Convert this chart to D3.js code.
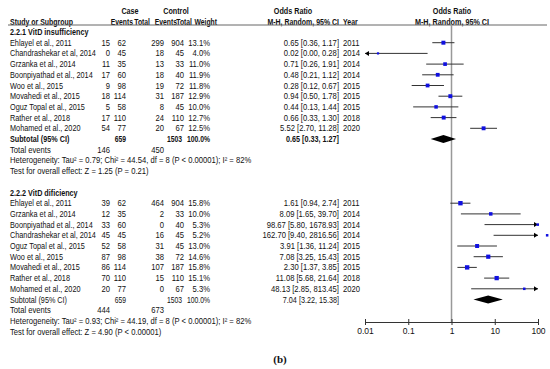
<!DOCTYPE html>
<html>
<head>
<meta charset="utf-8" />
<style>
body { margin: 0; background-color: #fff; }
#chart { width: 550px; height: 369px; }
text { font-family: "Liberation Sans", Arial, sans-serif; font-size: 8.5px; fill: #111; }
</style>
<title>forest plot</title>
</head>
<body>
<div id="chart"></div>
<script src="https://d3js.org/d3.v7.min.js"></script>
<script>

// 2.2.1 VitD insufficiency
var study1 = ["Ehlayel et al., 2011", "Chandrashekar et al, 2014", "Grzanka et al., 2014", "Boonpiyathad et al., 2014",
              "Woo et al., 2015", "Movahedi et al., 2015", "Oguz Topal et al., 2015", "Rather et al., 2018", "Mohamed et al., 2020"];
var caseEv1 = [15, 0, 11, 17, 9, 18, 5, 17, 54];
var caseN1 = [62, 45, 35, 60, 98, 114, 58, 110, 77];
var ctrlEv1 = [299, 18, 13, 18, 19, 31, 8, 24, 20];
var ctrlN1 = [904, 45, 33, 40, 72, 187, 45, 110, 67];
var weight1 = [13.1, 4.0, 11.0, 11.9, 11.8, 12.9, 10.0, 12.7, 12.5];
var or1 = [0.65, 0.02, 0.71, 0.48, 0.28, 0.94, 0.44, 0.66, 5.52];
var lo1 = [0.36, 0.00, 0.26, 0.21, 0.12, 0.50, 0.13, 0.33, 2.70];
var hi1 = [1.17, 0.28, 1.91, 1.12, 0.67, 1.78, 1.44, 1.30, 11.28];
var year1 = [2011, 2014, 2014, 2014, 2015, 2015, 2015, 2018, 2020];
var sub1 = {or: 0.65, lo: 0.33, hi: 1.27, caseN: 659, ctrlN: 1503, caseEv: 146, ctrlEv: 450,
            het: "Heterogeneity: Tau\u00b2 = 0.79; Chi\u00b2 = 44.54, df = 8 (P < 0.00001); I\u00b2 = 82%",
            test: "Test for overall effect: Z = 1.25 (P = 0.21)"};

// 2.2.2 VitD dificiency
var study2 = ["Ehlayel et al., 2011", "Grzanka et al., 2014", "Boonpiyathad et al., 2014", "Chandrashekar et al, 2014",
              "Oguz Topal et al., 2015", "Woo et al., 2015", "Movahedi et al., 2015", "Rather et al., 2018", "Mohamed et al., 2020"];
var caseEv2 = [39, 12, 33, 45, 52, 87, 86, 70, 20];
var caseN2 = [62, 35, 60, 45, 58, 98, 114, 110, 77];
var ctrlEv2 = [464, 2, 0, 16, 31, 38, 107, 15, 0];
var ctrlN2 = [904, 33, 40, 45, 45, 72, 187, 110, 67];
var weight2 = [15.8, 10.0, 5.3, 5.2, 13.0, 14.6, 15.8, 15.1, 5.3];
var or2 = [1.61, 8.09, 98.67, 162.70, 3.91, 7.08, 2.30, 11.08, 48.13];
var lo2 = [0.94, 1.65, 5.80, 9.40, 1.36, 3.25, 1.37, 5.68, 2.85];
var hi2 = [2.74, 39.70, 1678.93, 2816.56, 11.24, 15.43, 3.85, 21.64, 813.45];
var year2 = [2011, 2014, 2014, 2014, 2015, 2015, 2015, 2018, 2020];
var sub2 = {or: 7.04, lo: 3.22, hi: 15.38, caseN: 659, ctrlN: 1503, caseEv: 444, ctrlEv: 673,
            het: "Heterogeneity: Tau\u00b2 = 0.93; Chi\u00b2 = 44.19, df = 8 (P < 0.00001); I\u00b2 = 82%",
            test: "Test for overall effect: Z = 4.90 (P < 0.00001)"};

var axisTicks = [0.01, 0.1, 1, 10, 100];

var width = 550, height = 369;
var rowH = 10.7, row0 = 32;

// column anchors (right edges of data, headers sit a bit to the right)
var col = {name: 10, caseEv: 110, caseN: 126, ctrlEv: 164, ctrlN: 184, weight: 210, orTxt: 339, year: 343};
var hdr = {caseEv: 133, caseN: 150, ctrlEv: 177, ctrlN: 192, weight: 217};

var svg = d3.select("#chart").append("svg")
    .attr("width", width)
    .attr("height", height);

var x = d3.scaleLog().domain([0.01, 100]).range([365, 538]);
var rowY = function(i) { return row0 + i * rowH; };

var fmt2 = d3.format(".2f");
var orLabel = function(o, l, h) { return fmt2(o) + " [" + fmt2(l) + ", " + fmt2(h) + "]"; };

// text is a bit condensed in the original, so squeeze horizontally
function txt(xp, yp, s, anchor, weight, sx) {
    return svg.append("text")
        .attr("transform", "translate(" + xp + "," + (yp + 3) + ") scale(" + (sx || 0.9) + ",1)")
        .attr("text-anchor", anchor || "start")
        .style("font-weight", weight || "normal")
        .text(s);
}

// header
txt(130, 11, "Case", "middle", "bold", 0.85);
txt(176, 11, "Control", "middle", "bold", 0.85);
txt(293, 11, "Odds Ratio", "middle", "bold", 0.85);
txt(452, 11, "Odds Ratio", "middle", "bold", 0.85);
txt(col.name, 22, "Study or Subgroup", "start", "bold", 0.82);
txt(hdr.caseEv, 22, "Events", "end", "bold", 0.8);
txt(hdr.caseN, 22, "Total", "end", "bold", 0.8);
txt(hdr.ctrlEv, 22, "Events", "end", "bold", 0.8);
txt(hdr.ctrlN, 22, "Total", "end", "bold", 0.8);
txt(hdr.weight, 22, "Weight", "end", "bold", 0.8);
txt(col.orTxt, 22, "M-H, Random, 95% CI", "end", "bold", 0.82);
txt(col.year, 22, "Year", "start", "bold", 0.82);
txt(452, 22, "M-H, Random, 95% CI", "middle", "bold", 0.85);

svg.append("line")
    .attr("x1", 8).attr("x2", 547).attr("y1", 25).attr("y2", 25)
    .attr("stroke", "#666").attr("stroke-width", 1);

// line of no effect
svg.append("line")
    .attr("x1", x(1)).attr("x2", x(1)).attr("y1", 25).attr("y2", 322)
    .attr("stroke", "#999").attr("stroke-width", 1.5);

function drawGroup(start, title, names, cE, cN, kE, kN, w, o, l, h, yr, sub, subBold) {
    txt(col.name, rowY(start), title, "start", "bold", 0.85);
    names.forEach(function(n, i) {
        var y = rowY(start + 1 + i);
        txt(col.name, y, n, "start", "normal", 0.86);
        txt(col.caseEv, y, cE[i], "end");
        txt(col.caseN, y, cN[i], "end");
        txt(col.ctrlEv, y, kE[i], "end");
        txt(col.ctrlN, y, kN[i], "end");
        txt(col.weight, y, w[i].toFixed(1) + "%", "end");
        txt(col.orTxt, y, orLabel(o[i], l[i], h[i]), "end");
        txt(col.year, y, yr[i]);

        var x0 = Math.max(x(Math.max(l[i], 1e-6)), x.range()[0]);
        var x1 = Math.min(x(h[i]), x.range()[1]);
        svg.append("line")
            .attr("x1", x0).attr("x2", x1).attr("y1", y).attr("y2", y)
            .attr("stroke", "#333").attr("stroke-width", 1);
        if (l[i] < 0.01) {
            svg.append("path")
                .attr("d", "M" + x0 + "," + y + "l4,-2.5v5z")
                .attr("fill", "#000");
        }
        if (h[i] > 100) {
            svg.append("path")
                .attr("d", "M" + x1 + "," + y + "l-4,-2.5v5z")
                .attr("fill", "#000");
        }
        var s = Math.sqrt(w[i]) * 1.1;
        svg.append("rect")
            .attr("x", x(o[i]) - s / 2).attr("y", y - s / 2)
            .attr("width", s).attr("height", s)
            .attr("fill", "#1010e0");
    });
    var ys = rowY(start + 1 + names.length);
    var b = subBold ? "bold" : "normal";
    txt(col.name, ys, "Subtotal (95% CI)", "start", b, 0.85);
    txt(col.caseN, ys, sub.caseN, "end", b, 0.8);
    txt(col.ctrlN - 2, ys, sub.ctrlN, "end", b, 0.8);
    txt(col.weight, ys, "100.0%", "end", b, 0.8);
    txt(col.orTxt, ys, orLabel(sub.or, sub.lo, sub.hi), "end", b, 0.85);
    svg.append("path")
        .attr("d", "M" + x(sub.lo) + "," + ys + "L" + x(sub.or) + "," + (ys - 4) +
                   "L" + x(sub.hi) + "," + ys + "L" + x(sub.or) + "," + (ys + 4) + "Z")
        .attr("fill", "#000");

    var yt = rowY(start + 2 + names.length);
    txt(col.name, yt, "Total events");
    txt(col.caseEv, yt, sub.caseEv, "end");
    txt(col.ctrlEv, yt, sub.ctrlEv, "end");
    txt(col.name, rowY(start + 3 + names.length), sub.het);
    txt(col.name, rowY(start + 4 + names.length), sub.test);
}

drawGroup(0, "2.2.1 VitD insufficiency", study1, caseEv1, caseN1, ctrlEv1, ctrlN1, weight1, or1, lo1, hi1, year1, sub1, true);
drawGroup(15, "2.2.2 VitD dificiency", study2, caseEv2, caseN2, ctrlEv2, ctrlN2, weight2, or2, lo2, hi2, year2, sub2, false);

// axis
var axisG = svg.append("g")
    .attr("transform", "translate(0,322)")
    .call(d3.axisBottom(x).tickValues(axisTicks).tickFormat(function(d) { return String(d); })
          .tickSize(3).tickSizeOuter(0));
axisG.select(".domain").attr("stroke", "#333");
axisG.selectAll(".tick line").attr("y1", -3).attr("y2", 3).attr("stroke", "#333");
axisG.selectAll(".tick text").attr("y", 6)
    .style("font-family", "Liberation Sans, Arial, sans-serif").style("font-size", "8.5px").attr("fill", "#111");

svg.append("text")
    .attr("x", 280).attr("y", 363)
    .attr("text-anchor", "middle")
    .style("font-family", "Liberation Serif, serif").style("font-size", "11px").style("font-weight", "bold")
    .text("(b)");

</script>
</body>
</html>
